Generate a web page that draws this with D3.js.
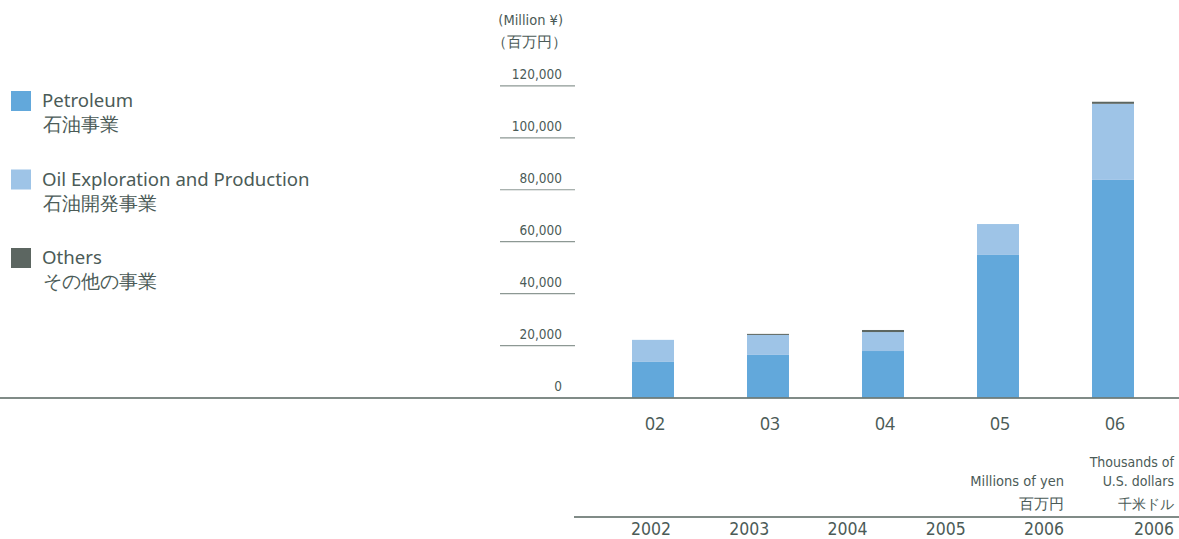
<!DOCTYPE html>
<meta charset="utf-8">
<script src="https://d3js.org/d3.v7.min.js"></script>
<style>
  body { margin: 0; background: #fff; }
  svg { display: block; }
  .cond { font-family: "Liberation Sans Narrow", "DejaVu Sans Condensed", "Roboto", sans-serif; }
  .hum { font-family: "Noto Sans", "Open Sans", sans-serif; }
</style>
<div id="chart"></div>
<script>

  // chart data (Million yen)
  var categories = ["02", "03", "04", "05", "06"];
  var petroleum = [13700, 16400, 17900, 54900, 83800];
  var oilExploration = [8500, 7700, 7300, 11900, 29300];
  var others = [0, 400, 800, 0, 800];

  var yTicks = [0, 20000, 40000, 60000, 80000, 100000, 120000];

  var seriesNames = ["Petroleum", "Oil Exploration and Production", "Others"];
  var seriesNamesJa = ["石油事業", "石油開発事業", "その他の事業"];
  var seriesColors = ["#62a8db", "#9ec4e7", "#5c6661"];

  // table header under the chart
  var tableYears = ["2002", "2003", "2004", "2005", "2006", "2006"];
  var unitYen = ["Millions of yen", "百万円"];
  var unitUsd = ["Thousands of", "U.S. dollars", "千米ドル"];

  var textColor = "#4b5b57";
  var width = 1179, height = 539;

  var svg = d3.select("#chart")
    .append("svg")
      .attr("width", width)
      .attr("height", height);

  // build stacked table
  var rows = categories.map(function(c, i) {
    return {cat: c, Petroleum: petroleum[i], "Oil Exploration and Production": oilExploration[i], Others: others[i]};
  });
  var stack = d3.stack().keys(seriesNames);
  var layers = stack(rows);

  var x = d3.scaleBand()
      .domain(categories)
      .range([595.5, 1170.5])
      .paddingInner(0.635)
      .paddingOuter(0.3175);

  var y = d3.scaleLinear()
      .domain([0, 120000])
      .range([397.5, 85.9]);

  // y tick lines and labels
  var tickG = svg.append("g");
  tickG.selectAll("line")
    .data(yTicks.filter(function(d) { return d > 0; }))
    .enter().append("line")
      .attr("x1", 500).attr("x2", 575)
      .attr("y1", function(d) { return y(d); })
      .attr("y2", function(d) { return y(d); })
      .attr("stroke", "#8d9894")
      .attr("stroke-width", 1.2);
  tickG.selectAll("text")
    .data(yTicks)
    .enter().append("text")
      .attr("class", "cond")
      .attr("x", 562)
      .attr("y", function(d) { return y(d) - 7; })
      .attr("text-anchor", "end")
      .attr("font-size", 13.5)
      .attr("fill", textColor)
      .text(function(d) { return d3.format(",")(d); });

  // unit label
  svg.append("text").attr("class", "cond")
    .attr("x", 563).attr("y", 25).attr("text-anchor", "end")
    .attr("font-size", 14.5).attr("fill", textColor)
    .text("(Million ¥)");
  svg.append("text").attr("class", "hum")
    .attr("x", 567).attr("y", 47).attr("text-anchor", "end")
    .attr("font-size", 14.5).attr("fill", textColor)
    .text("（百万円）");

  // bars
  svg.append("g")
    .selectAll("g")
    .data(layers)
    .enter().append("g")
      .attr("fill", function(d, i) { return seriesColors[i]; })
    .selectAll("rect")
    .data(function(d) { return d; })
    .enter().append("rect")
      .attr("x", function(d) { return x(d.data.cat); })
      .attr("y", function(d) { return y(d[1]); })
      .attr("width", x.bandwidth())
      .attr("height", function(d) { return y(d[0]) - y(d[1]); });

  // baseline
  svg.append("line")
    .attr("x1", 0).attr("x2", width)
    .attr("y1", y(0) + 0.5).attr("y2", y(0) + 0.5)
    .attr("stroke", "#56655f")
    .attr("stroke-width", 1.6);

  // category labels
  svg.append("g")
    .selectAll("text")
    .data(categories)
    .enter().append("text")
      .attr("class", "hum")
      .attr("x", function(d) { return x(d) + x.bandwidth() / 2 + 2; })
      .attr("y", 430)
      .attr("text-anchor", "middle")
      .attr("font-size", 17.5)
      .attr("fill", textColor)
      .text(function(d) { return d; });

  // legend
  var legend = svg.append("g")
    .selectAll("g")
    .data(seriesNames)
    .enter().append("g")
      .attr("transform", function(d, i) { return "translate(11," + (91 + i * 78.5) + ")"; });
  legend.append("rect")
    .attr("width", 20).attr("height", 20)
    .attr("fill", function(d, i) { return seriesColors[i]; });
  legend.append("text").attr("class", "hum")
    .attr("x", 31).attr("y", 16)
    .attr("font-size", 18.6).attr("fill", textColor)
    .text(function(d) { return d; });
  legend.append("text").attr("class", "hum")
    .attr("x", 32).attr("y", 40)
    .attr("font-size", 18.5).attr("fill", textColor)
    .text(function(d, i) { return seriesNamesJa[i]; });

  // table header
  var colRight = d3.scalePoint()
      .domain(d3.range(tableYears.length - 1))
      .range([671, 1064]);
  function colX(i) { return i < tableYears.length - 1 ? colRight(i) : 1174; }

  svg.append("line")
    .attr("x1", 574).attr("x2", width)
    .attr("y1", 517).attr("y2", 517)
    .attr("stroke", "#56655f").attr("stroke-width", 1.4);

  svg.append("g")
    .selectAll("text")
    .data(tableYears)
    .enter().append("text")
      .attr("class", "cond")
      .attr("x", function(d, i) { return colX(i); })
      .attr("y", 535)
      .attr("text-anchor", "end")
      .attr("font-size", 17.5)
      .attr("fill", textColor)
      .text(function(d) { return d; });

  svg.append("text").attr("class", "cond")
    .attr("x", colX(4)).attr("y", 486).attr("text-anchor", "end")
    .attr("font-size", 14.5).attr("fill", textColor).text(unitYen[0]);
  svg.append("text").attr("class", "hum")
    .attr("x", colX(4)).attr("y", 509).attr("text-anchor", "end")
    .attr("font-size", 14.5).attr("fill", textColor).text(unitYen[1]);

  svg.append("text").attr("class", "cond")
    .attr("x", colX(5)).attr("y", 467).attr("text-anchor", "end")
    .attr("font-size", 14).attr("fill", textColor).text(unitUsd[0]);
  svg.append("text").attr("class", "cond")
    .attr("x", colX(5)).attr("y", 486).attr("text-anchor", "end")
    .attr("font-size", 14).attr("fill", textColor).text(unitUsd[1]);
  svg.append("text").attr("class", "hum")
    .attr("x", colX(5)).attr("y", 509).attr("text-anchor", "end")
    .attr("font-size", 14).attr("fill", textColor).text(unitUsd[2]);

</script>
